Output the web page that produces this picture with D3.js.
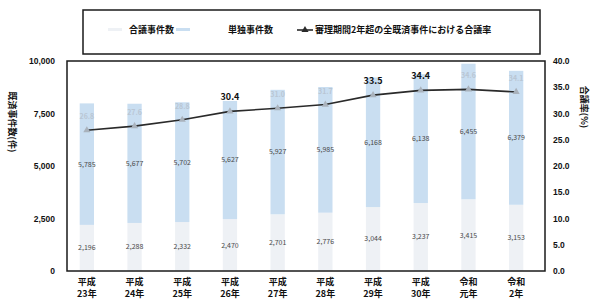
<!DOCTYPE html>
<html>
<head>
<meta charset="utf-8">
<script src="https://cdn.jsdelivr.net/npm/d3@7"></script>
<style>
  body { margin: 0; background: #ffffff; }
  svg { display: block; font-family: "Noto Sans CJK JP", "Noto Sans", sans-serif; }
</style>
</head>
<body>
<svg id="grafico" width="596" height="303"></svg>
<script>
const anios = ['平成23年','平成24年','平成25年','平成26年','平成27年','平成28年','平成29年','平成30年','令和元年','令和2年'];
const etiquetaArriba = ['平成','平成','平成','平成','平成','平成','平成','平成','令和','令和'];
const etiquetaAbajo = ['23年','24年','25年','26年','27年','28年','29年','30年','元年','2年'];
const goudou = [2196, 2288, 2332, 2470, 2701, 2776, 3044, 3237, 3415, 3153];
const tandoku = [5785, 5677, 5702, 5627, 5927, 5985, 6168, 6138, 6455, 6379];
const ritsu = [26.8, 27.6, 28.8, 30.4, 31.0, 31.7, 33.5, 34.4, 34.6, 34.1];
const ritsuMarcado = [false, false, false, true, false, false, true, true, false, false];
const ticksIzq = [0, 2500, 5000, 7500, 10000];
const ticksDer = [0, 5, 10, 15, 20, 25, 30, 35, 40];

const svg = d3.select('#grafico');
const area = { left: 67, right: 545, top: 61, bottom: 271 };

const x = d3.scaleBand().domain(anios).range([63, 540]).paddingInner(0.7).paddingOuter(0.35);
const yIzq = d3.scaleLinear().domain([0, 10000]).range([area.bottom, area.top]);
const yDer = d3.scaleLinear().domain([0, 40]).range([area.bottom, area.top]);

// barras apiladas: abajo 合議, arriba 単独
const filas = anios.map((a, i) => ({ anio: a, goudou: goudou[i], tandoku: tandoku[i] }));
const pila = d3.stack().keys(['goudou', 'tandoku'])(filas);
const colores = { goudou: '#eef1f5', tandoku: '#c9def1' };

pila.forEach((serie) => {
  svg.append('g')
    .selectAll('rect')
    .data(serie)
    .join('rect')
    .attr('x', (d) => x(d.data.anio))
    .attr('y', (d) => yIzq(d[1]))
    .attr('width', x.bandwidth())
    .attr('height', (d) => yIzq(d[0]) - yIzq(d[1]))
    .attr('fill', colores[serie.key]);
});

// numeros dentro de las barras
pila.forEach((serie) => {
  svg.append('g')
    .selectAll('text')
    .data(serie)
    .join('text')
    .attr('x', (d) => x(d.data.anio) + x.bandwidth() / 2)
    .attr('y', (d) => (yIzq(d[0]) + yIzq(d[1])) / 2)
    .attr('dy', '0.35em')
    .attr('text-anchor', 'middle')
    .attr('font-size', 7)
    .attr('fill', '#4a4a4a')
    .text((d) => d3.format(',')(d[1] - d[0]));
});

// marco del grafico
svg.append('rect')
  .attr('x', area.left)
  .attr('y', area.top)
  .attr('width', area.right - area.left)
  .attr('height', area.bottom - area.top)
  .attr('fill', 'none')
  .attr('stroke', '#1a1a1a')
  .attr('stroke-width', 1.5);

// linea del 合議率
const linea = d3.line()
  .x((d, i) => x(anios[i]) + x.bandwidth() / 2)
  .y((d) => yDer(d));

svg.append('path')
  .datum(ritsu)
  .attr('d', linea)
  .attr('fill', 'none')
  .attr('stroke', '#2a2a2a')
  .attr('stroke-width', 1.6);

svg.append('g')
  .selectAll('path')
  .data(ritsu)
  .join('path')
  .attr('d', d3.symbol().type(d3.symbolTriangle).size(22))
  .attr('transform', (d, i) => `translate(${x(anios[i]) + x.bandwidth() / 2},${yDer(d)})`)
  .attr('fill', '#a9b2bc');

svg.append('g')
  .selectAll('text')
  .data(ritsu)
  .join('text')
  .attr('x', (d, i) => x(anios[i]) + x.bandwidth() / 2)
  .attr('y', (d) => yDer(d) - 11)
  .attr('text-anchor', 'middle')
  .attr('font-size', (d, i) => ritsuMarcado[i] ? 9 : 7)
  .attr('font-weight', 'bold')
  .attr('fill', (d, i) => ritsuMarcado[i] ? '#111111' : '#b9c6d4')
  .text((d) => d.toFixed(1));

// ejes
const ejeIzq = svg.append('g')
  .attr('transform', `translate(${area.left},0)`)
  .call(d3.axisLeft(yIzq).tickValues(ticksIzq).tickFormat(d3.format(',')).tickSize(0).tickPadding(12));
const ejeDer = svg.append('g')
  .attr('transform', `translate(${area.right},0)`)
  .call(d3.axisRight(yDer).tickValues(ticksDer).tickFormat(d3.format('.1f')).tickSize(0).tickPadding(8));
[ejeIzq, ejeDer].forEach((eje) => {
  eje.select('.domain').remove();
  eje.selectAll('text')
    .attr('font-size', 8.5)
    .attr('font-weight', 'bold')
    .attr('fill', '#111111')
    .attr('font-family', '"Liberation Sans", Arial, sans-serif');
});

// etiquetas del eje x en dos lineas
const ejeX = svg.append('g');
ejeX.selectAll('text.arriba')
  .data(anios)
  .join('text')
  .attr('class', 'arriba')
  .attr('x', (d) => x(d) + x.bandwidth() / 2)
  .attr('y', 285)
  .attr('text-anchor', 'middle')
  .attr('font-size', 9)
  .attr('font-weight', 'bold')
  .attr('fill', '#111111')
  .text((d, i) => etiquetaArriba[i]);
ejeX.selectAll('text.abajo')
  .data(anios)
  .join('text')
  .attr('class', 'abajo')
  .attr('x', (d) => x(d) + x.bandwidth() / 2)
  .attr('y', 297)
  .attr('text-anchor', 'middle')
  .attr('font-size', 9)
  .attr('font-weight', 'bold')
  .attr('fill', '#111111')
  .text((d, i) => etiquetaAbajo[i]);

// titulos de los ejes
svg.append('text')
  .attr('transform', 'translate(9,122) rotate(90)')
  .attr('text-anchor', 'middle')
  .attr('font-size', 9)
  .attr('font-weight', 'bold')
  .attr('fill', '#111111')
  .text('既済事件数(件)');
svg.append('text')
  .attr('transform', 'translate(581,107) rotate(90)')
  .attr('text-anchor', 'middle')
  .attr('font-size', 9)
  .attr('font-weight', 'bold')
  .attr('fill', '#111111')
  .text('合議率(%)');

// leyenda
const leyenda = svg.append('g');
leyenda.append('rect')
  .attr('x', 83)
  .attr('y', 10)
  .attr('width', 457)
  .attr('height', 44)
  .attr('fill', '#ffffff')
  .attr('stroke', '#1a1a1a')
  .attr('stroke-width', 1.5);

leyenda.append('rect')
  .attr('x', 108).attr('y', 28).attr('width', 14).attr('height', 3)
  .attr('fill', colores.goudou);
leyenda.append('text')
  .attr('x', 129).attr('y', 30).attr('dy', '0.35em')
  .attr('font-size', 9).attr('font-weight', 'bold').attr('fill', '#111111')
  .text('合議事件数');

leyenda.append('rect')
  .attr('x', 176).attr('y', 28).attr('width', 14).attr('height', 3)
  .attr('fill', colores.tandoku);
leyenda.append('text')
  .attr('x', 228).attr('y', 30).attr('dy', '0.35em')
  .attr('font-size', 9).attr('font-weight', 'bold').attr('fill', '#111111')
  .text('単独事件数');

leyenda.append('line')
  .attr('x1', 297).attr('x2', 313).attr('y1', 30).attr('y2', 30)
  .attr('stroke', '#2a2a2a').attr('stroke-width', 1.6);
leyenda.append('path')
  .attr('d', d3.symbol().type(d3.symbolTriangle).size(22))
  .attr('transform', 'translate(305,30)')
  .attr('fill', '#2a2a2a');
leyenda.append('text')
  .attr('x', 315).attr('y', 30).attr('dy', '0.35em')
  .attr('font-size', 9).attr('font-weight', 'bold').attr('fill', '#111111')
  .text('審理期間2年超の全既済事件における合議率');
</script>
</body>
</html>
